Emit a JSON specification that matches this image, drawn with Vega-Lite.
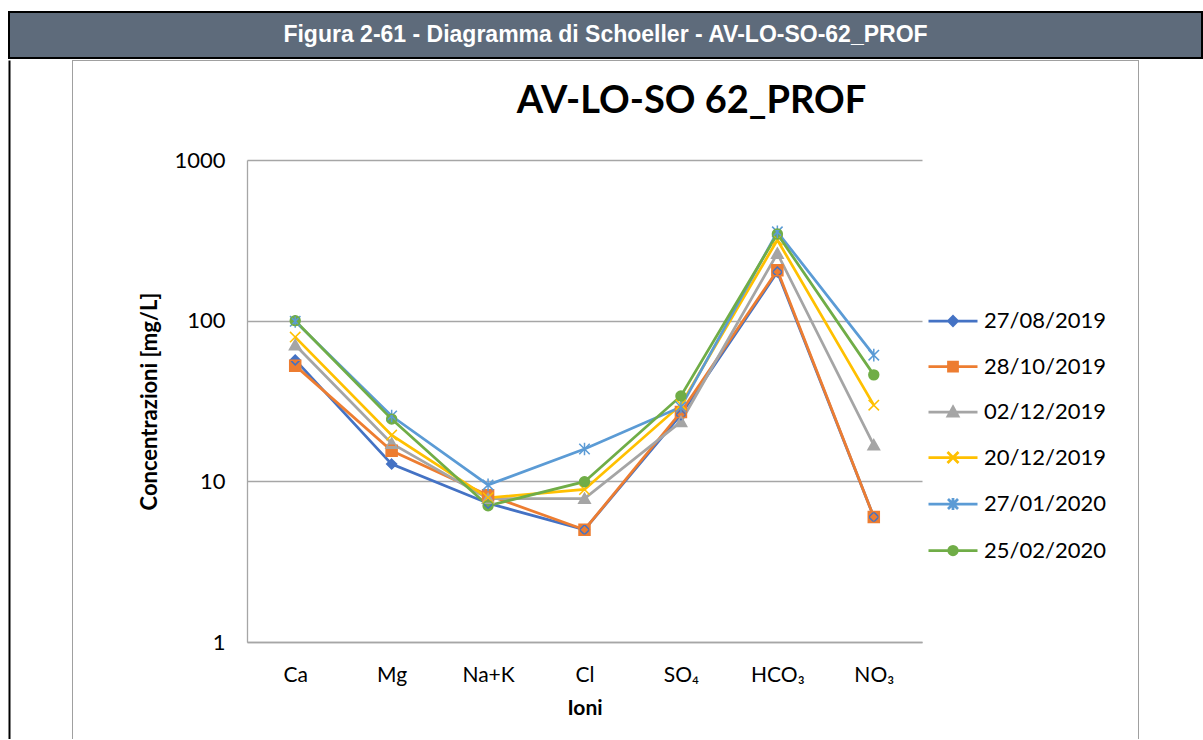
{
  "$schema": "https://vega.github.io/schema/vega-lite/v6.json",
  "padding": {"left": 8, "top": 11, "right": 0, "bottom": 0},
  "background": "#ffffff",
  "bounds": "flush",
  "center": true,
  "spacing": 2,
  "config": {"font": "Lato", "view": {"stroke": null}},
  "vconcat": [
    {
      "width": 1193,
      "height": 46,
      "data": {"values": [{"t": "Figura 2-61 - Diagramma di Schoeller -  AV-LO-SO-62_PROF"}]},
      "layer": [
        {"mark": {"type": "rect", "fill": "#5e6b7b", "stroke": "#000000", "strokeWidth": 2}},
        {
          "mark": {"type": "text", "font": "Liberation Sans", "fontWeight": "bold", "fontSize": 23, "color": "#ffffff", "baseline": "middle", "align": "center"},
          "encoding": {"text": {"field": "t", "type": "nominal"}}
        }
      ]
    },
    {
      "width": 1067,
      "height": 679,
      "title": {"text": "AV-LO-SO 62_PROF", "font": "Lato", "fontSize": 38, "fontWeight": "bold", "color": "#000000", "anchor": "middle", "frame": "group", "baseline": "alphabetic", "offset": 0, "dx": 86, "dy": 91},
      "data": {"values": [
        {"ion": "Ca", "date": "27/08/2019", "value": 57},
        {"ion": "Mg", "date": "27/08/2019", "value": 12.8},
        {"ion": "Na+K", "date": "27/08/2019", "value": 7.3},
        {"ion": "Cl", "date": "27/08/2019", "value": 5.0},
        {"ion": "SO₄", "date": "27/08/2019", "value": 26},
        {"ion": "HCO₃", "date": "27/08/2019", "value": 201},
        {"ion": "NO₃", "date": "27/08/2019", "value": 6.0},
        {"ion": "Ca", "date": "28/10/2019", "value": 52.5},
        {"ion": "Mg", "date": "28/10/2019", "value": 15.5},
        {"ion": "Na+K", "date": "28/10/2019", "value": 8.2},
        {"ion": "Cl", "date": "28/10/2019", "value": 5.0},
        {"ion": "SO₄", "date": "28/10/2019", "value": 27},
        {"ion": "HCO₃", "date": "28/10/2019", "value": 206},
        {"ion": "NO₃", "date": "28/10/2019", "value": 6.0},
        {"ion": "Ca", "date": "02/12/2019", "value": 70.5},
        {"ion": "Mg", "date": "02/12/2019", "value": 17.2},
        {"ion": "Na+K", "date": "02/12/2019", "value": 7.8},
        {"ion": "Cl", "date": "02/12/2019", "value": 7.8},
        {"ion": "SO₄", "date": "02/12/2019", "value": 23.5},
        {"ion": "HCO₃", "date": "02/12/2019", "value": 262},
        {"ion": "NO₃", "date": "02/12/2019", "value": 16.8},
        {"ion": "Ca", "date": "20/12/2019", "value": 79},
        {"ion": "Mg", "date": "20/12/2019", "value": 19.4},
        {"ion": "Na+K", "date": "20/12/2019", "value": 7.9},
        {"ion": "Cl", "date": "20/12/2019", "value": 8.9},
        {"ion": "SO₄", "date": "20/12/2019", "value": 30},
        {"ion": "HCO₃", "date": "20/12/2019", "value": 318},
        {"ion": "NO₃", "date": "20/12/2019", "value": 29.8},
        {"ion": "Ca", "date": "27/01/2020", "value": 99},
        {"ion": "Mg", "date": "27/01/2020", "value": 25.5},
        {"ion": "Na+K", "date": "27/01/2020", "value": 9.5},
        {"ion": "Cl", "date": "27/01/2020", "value": 15.9},
        {"ion": "SO₄", "date": "27/01/2020", "value": 29},
        {"ion": "HCO₃", "date": "27/01/2020", "value": 357},
        {"ion": "NO₃", "date": "27/01/2020", "value": 61},
        {"ion": "Ca", "date": "25/02/2020", "value": 100},
        {"ion": "Mg", "date": "25/02/2020", "value": 24.4},
        {"ion": "Na+K", "date": "25/02/2020", "value": 7.05},
        {"ion": "Cl", "date": "25/02/2020", "value": 9.95},
        {"ion": "SO₄", "date": "25/02/2020", "value": 34},
        {"ion": "HCO₃", "date": "25/02/2020", "value": 346},
        {"ion": "NO₃", "date": "25/02/2020", "value": 46}
      ]},
      "resolve": {"scale": {"y": "independent"}, "axis": {"y": "independent"}},
      "layer": [
        {
          "data": {"values": [{"frame": 1}]},
          "mark": {"type": "rect", "fill": "transparent", "stroke": "#a0a0a0", "strokeWidth": 2, "clip": true},
          "encoding": {
            "y": {"datum": 1, "type": "quantitative",
              "scale": {"domain": [0, 1], "nice": false, "zero": false},
              "axis": {"orient": "left", "offset": 63, "domainColor": "#000000", "domainWidth": 2, "labels": false, "ticks": false, "grid": false, "title": null}},
            "y2": {"datum": -0.05}
          }
        },
        {
          "layer": [
            {
              "mark": {"type": "line", "strokeWidth": 2.75},
              "encoding": {
                "x": {
                  "field": "ion", "type": "nominal",
                  "scale": {"type": "point", "domain": ["Ca", "Mg", "Na+K", "Cl", "SO₄", "HCO₃", "NO₃"], "range": [175, 850], "padding": 0.5},
                  "axis": {"title": "Ioni", "orient": "bottom", "offset": -97, "grid": false, "ticks": false, "tickSize": 0, "domainColor": "#a6a6a6", "domainWidth": 1.3, "labelAngle": 0, "labelPadding": 22, "labelFont": "Lato, Noto Sans", "labelFontSize": 21, "labelColor": "#000000", "titleFont": "Lato", "titleFontSize": 21, "titleFontWeight": "bold", "titleColor": "#000000", "titlePadding": 12}
                },
                "y": {
                  "field": "value", "type": "quantitative",
                  "scale": {"type": "log", "domain": [1, 1000], "range": [582, 100], "nice": false},
                  "axis": {"title": "Concentrazioni [mg/L]", "orient": "left", "offset": -175, "values": [1, 10, 100, 1000], "format": "d", "grid": true, "gridColor": "#a6a6a6", "gridWidth": 1.3, "ticks": false, "tickSize": 0, "domainColor": "#a6a6a6", "domainWidth": 1.3, "labelPadding": 22, "labelFont": "Lato", "labelFontSize": 22, "labelColor": "#000000", "titleFont": "Lato", "titleFontSize": 22, "titleFontWeight": "bold", "titleColor": "#000000", "titlePadding": 12}
                },
                "color": {
                  "field": "date", "type": "nominal",
                  "scale": {"domain": ["27/08/2019", "28/10/2019", "02/12/2019", "20/12/2019", "27/01/2020", "25/02/2020"], "range": ["#4472C4", "#ED7D31", "#A5A5A5", "#FFC000", "#5B9BD5", "#70AD47"]},
                  "legend": {
                    "title": null, "orient": "none", "legendX": 933, "legendY": 298,
                    "symbolSize": 100, "symbolStrokeWidth": 2.75, "labelOffset": 20,
                    "labelFont": "Lato", "labelFontSize": 22, "labelColor": "#000000", "rowPadding": 23.5,
                    "encode": {
                      "symbols": {
                        "update": {
                          "shape": {"signal": "datum.value === '27/08/2019' ? 'M-4.9,0H4.9M0,-0.9L0.9,0L0,0.9L-0.9,0Z' : datum.value === '28/10/2019' ? 'M-4.9,0H4.9M-0.9,-0.9H0.9V0.9H-0.9Z' : datum.value === '02/12/2019' ? 'M-4.9,0H4.9M0,-1L1,0.8H-1Z' : datum.value === '20/12/2019' ? 'M-4.9,0H4.9M-1.1,-1.1L1.1,1.1M-1.1,1.1L1.1,-1.1' : datum.value === '27/01/2020' ? 'M-4.9,0H4.9M-1,-1L1,1M-1,1L1,-1M0,-1.2V1.2' : 'M-4.9,0H4.9M0.85,0A0.85,0.85,0,1,1,-0.85,0A0.85,0.85,0,1,1,0.85,0Z'"}
                        }
                      }
                    }
                  }
                }
              }
            },
            {
              "mark": {"type": "point", "filled": true, "size": 121, "opacity": 1},
              "encoding": {
                "x": {"field": "ion", "type": "nominal"},
                "y": {"field": "value", "type": "quantitative"},
                "color": {"field": "date", "type": "nominal"},
                "shape": {"field": "date", "type": "nominal", "legend": null,
                  "scale": {"domain": ["25/02/2020", "27/08/2019", "28/10/2019", "02/12/2019", "20/12/2019", "27/01/2020"], "range": ["M0.9,0A0.9,0.9,0,1,1,-0.9,0A0.9,0.9,0,1,1,0.9,0Z", "M0,-0.9L0.9,0L0,0.9L-0.9,0Z", "M-1,-1H1V1H-1Z", "M0,-1L1.05,0.85H-1.05Z", "M-0.95,-0.95L0.95,0.95M-0.95,0.95L0.95,-0.95", "M-0.95,-0.95L0.95,0.95M-0.95,0.95L0.95,-0.95M0,-1.15V1.15"]}}
              }
            },
            {
              "mark": {"type": "point", "filled": false, "size": 121, "strokeWidth": 1.5, "opacity": 1},
              "encoding": {
                "x": {"field": "ion", "type": "nominal"},
                "y": {"field": "value", "type": "quantitative"},
                "color": {"field": "date", "type": "nominal"},
                "shape": {"field": "date", "type": "nominal", "legend": null}
              }
            }
          ]
        }
      ]
    }
  ]
}
